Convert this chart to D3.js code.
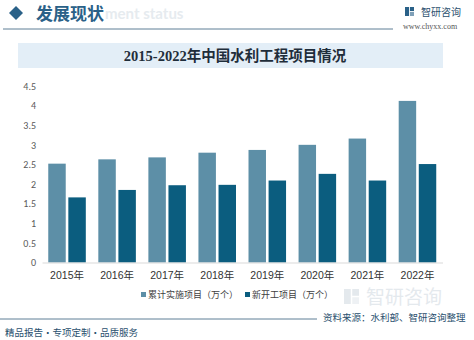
<!DOCTYPE html>
<html>
<head>
<meta charset="utf-8">
<script src="https://cdn.jsdelivr.net/npm/d3@7"></script>
<style>
  html, body { margin: 0; padding: 0; background: #ffffff; }
  svg { display: block; }
</style>
</head>
<body>
<svg id="chart" width="474" height="340"></svg>
<script>
// Chart data
const years = ["2015年", "2016年", "2017年", "2018年", "2019年", "2020年", "2021年", "2022年"];
const cumulative = [2.52, 2.63, 2.68, 2.80, 2.87, 3.00, 3.16, 4.12];
const newStarts = [1.66, 1.85, 1.97, 1.98, 2.09, 2.26, 2.09, 2.51];
const seriesNames = ["累计实施项目（万个）", "新开工项目（万个）"];
const yTicks = [0, 0.5, 1, 1.5, 2, 2.5, 3, 3.5, 4, 4.5];
const yTickLabels = ["0", "0.5", "1", "1.5", "2", "2.5", "3", "3.5", "4", "4.5"];

const colors = ["#5d8fa7", "#0b5d7f"];
const svg = d3.select("#chart");
const cjk = "'Noto Sans CJK SC', 'Noto Sans', sans-serif";
const serif = "'Liberation Serif', 'DejaVu Serif', 'Noto Sans CJK SC', serif";

// ---- header ----
svg.append("path")
  .attr("d", "M9,13 L16,6 L23,13 L16,20 Z")
  .attr("fill", "#2a6188");
svg.append("text")
  .attr("x", 105).attr("y", 19)
  .attr("font-family", "Lato, 'Open Sans', sans-serif").attr("font-weight", 700)
  .attr("font-size", 15).attr("fill", "#e6ebef")
  .text("ment status");
svg.append("text")
  .attr("x", 36).attr("y", 20)
  .attr("font-family", cjk).attr("font-weight", 700)
  .attr("font-size", 17).attr("fill", "#2a6188")
  .text("发展现状");
svg.append("line")
  .attr("x1", 3).attr("x2", 393).attr("y1", 29).attr("y2", 29)
  .attr("stroke", "#5f7f96").attr("stroke-width", 1);

// logo mark
function logoMark(g, x, y, s, color) {
  g.append("rect").attr("x", x).attr("y", y).attr("width", s * 0.45).attr("height", s).attr("fill", color);
  g.append("rect").attr("x", x + s * 0.55).attr("y", y).attr("width", s * 0.45).attr("height", s * 0.45).attr("fill", color);
  g.append("rect").attr("x", x + s * 0.55).attr("y", y + s * 0.55).attr("width", s * 0.45).attr("height", s * 0.45).attr("fill", color).attr("opacity", 0.6);
}
logoMark(svg, 405, 7, 9, "#2a6188");
svg.append("text")
  .attr("x", 421).attr("y", 16)
  .attr("font-family", cjk).attr("font-size", 10).attr("fill", "#2a4f6e")
  .text("智研咨询");
svg.append("text")
  .attr("x", 403).attr("y", 29)
  .attr("font-family", serif).attr("font-size", 8).attr("fill", "#555")
  .text("www.chyxx.com");

// ---- title band ----
svg.append("rect")
  .attr("x", 18).attr("y", 43).attr("width", 425).attr("height", 25)
  .attr("fill", "#e3eef7");
svg.append("text")
  .attr("x", 235).attr("y", 61).attr("text-anchor", "middle")
  .attr("font-family", serif).attr("font-weight", 700)
  .attr("font-size", 14.5).attr("fill", "#1f2d3a")
  .text("2015-2022年中国水利工程项目情况");

// ---- plot ----
const plot = { left: 42, right: 442.5, top: 86, bottom: 262.5 };
const x = d3.scaleBand().domain(years).range([plot.left, plot.right]).paddingInner(0.25).paddingOuter(0.125);
const sub = d3.scaleBand().domain([0, 1]).range([0, x.bandwidth()]).paddingInner(0.13);
const y = d3.scaleLinear().domain([0, 4.5]).range([plot.bottom, plot.top]);

// large faint brand mark in the lower right
const wm = svg.append("g").attr("opacity", 0.38);
logoMark(wm, 344, 289, 15, "#b9c6d2");
wm.append("text")
  .attr("x", 366).attr("y", 304)
  .attr("font-family", cjk).attr("font-size", 19).attr("fill", "#b9c6d2")
  .text("智研咨询");

// y axis labels
const yAxis = d3.axisLeft(y).tickValues(yTicks).tickFormat((d, i) => yTickLabels[i]).tickSize(0).tickPadding(0);
const yg = svg.append("g").attr("transform", `translate(36,0)`).call(yAxis);
yg.select(".domain").remove();
yg.selectAll("text")
  .attr("font-family", "Calibri, 'Carlito', 'Liberation Sans', sans-serif")
  .attr("font-size", 10).attr("fill", "#595959");

// bars
const groups = svg.append("g").selectAll("g")
  .data(years).join("g")
  .attr("transform", d => `translate(${x(d)},0)`);
[cumulative, newStarts].forEach((series, si) => {
  groups.append("rect")
    .attr("x", sub(si))
    .attr("width", sub.bandwidth())
    .attr("y", (d, i) => y(series[i]))
    .attr("height", (d, i) => plot.bottom - y(series[i]))
    .attr("fill", colors[si]);
});

// x axis
const xAxis = d3.axisBottom(x).tickSize(0).tickPadding(9);
const xg = svg.append("g").attr("transform", `translate(0,${plot.bottom})`).call(xAxis);
xg.select(".domain").attr("stroke", "#d9d9d9").attr("stroke-width", 1);
xg.selectAll("text")
  .attr("font-family", "'Liberation Sans', 'Noto Sans CJK SC', sans-serif")
  .attr("font-size", 10.5).attr("fill", "#333");

// legend
const legendX = [141, 245];
seriesNames.forEach((name, i) => {
  svg.append("rect")
    .attr("x", legendX[i]).attr("y", 292).attr("width", 5).attr("height", 5)
    .attr("fill", colors[i]);
  svg.append("text")
    .attr("x", legendX[i] + 7).attr("y", 298)
    .attr("font-family", cjk).attr("font-size", 9).attr("fill", "#404040")
    .text(name);
});

// ---- footer ----
svg.append("line")
  .attr("x1", 0).attr("x2", 317).attr("y1", 319).attr("y2", 319)
  .attr("stroke", "#5f7f96").attr("stroke-width", 1);
svg.append("text")
  .attr("x", 323).attr("y", 321)
  .attr("font-family", cjk).attr("font-size", 9.5).attr("fill", "#2a4f6e")
  .text("资料来源：水利部、智研咨询整理");
svg.append("text")
  .attr("x", 5).attr("y", 336)
  .attr("font-family", cjk).attr("font-size", 9.5).attr("fill", "#2a4f6e")
  .text("精品报告·专项定制·品质服务");
</script>
</body>
</html>
